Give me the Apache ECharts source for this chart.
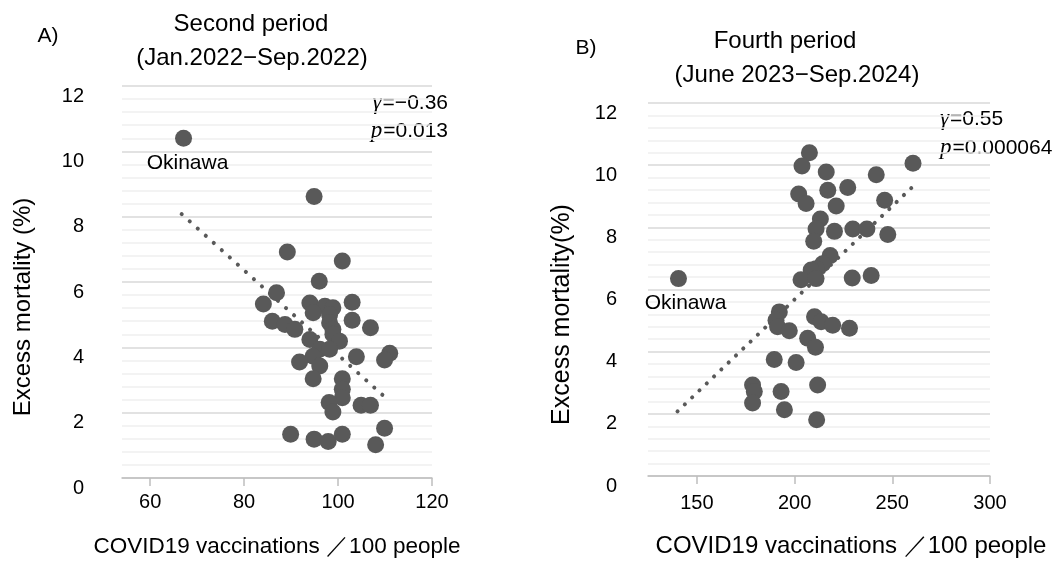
<!DOCTYPE html>
<html>
<head>
<meta charset="utf-8">
<script src="https://cdn.jsdelivr.net/npm/echarts@6/dist/echarts.min.js"></script>
<style>
html, body { margin: 0; background: #fff; }
#chart { width: 1053px; height: 563px; }
</style>
</head>
<body>
<div id="chart"></div>
<script>
// tick values
const yTicks = [0, 2, 4, 6, 8, 10, 12];
const xTicksA = [60, 80, 100, 120];
const xTicksB = [150, 200, 250, 300];

// A) second period, first point is Okinawa
const vaccA = [67.1, 94.9, 89.2, 100.9, 96.0, 86.9, 84.1, 94.0, 97.2, 98.9, 103.0, 94.7, 98.2, 86.0, 88.7,
    90.8, 98.2, 98.9, 103.0, 106.9, 94.0, 98.9, 100.3, 96.1, 94.7, 98.2, 103.9, 91.8, 96.1, 94.7,
    111.0, 109.9, 100.9, 100.9, 100.9, 98.1, 98.9, 104.9, 106.9, 109.9, 108.0, 89.9, 94.9, 97.9, 100.9];
const excessA = [10.40, 8.62, 6.92, 6.64, 6.02, 5.67, 5.33, 5.36, 5.26, 5.21, 5.38, 5.06, 5.00, 4.80, 4.70,
    4.55, 4.75, 4.55, 4.83, 4.60, 4.24, 4.40, 4.19, 3.94, 3.73, 3.94, 3.71, 3.55, 3.43, 3.04,
    3.82, 3.61, 3.04, 2.72, 2.46, 2.31, 2.02, 2.23, 2.23, 1.52, 1.02, 1.34, 1.19, 1.12, 1.34];
const trendAx = [66.7, 110.1];
const trendAy = [8.08, 2.46];

// B) fourth period, first point is Okinawa
const vaccB = [140.6, 207.6, 203.8, 216.2, 241.8, 260.6, 227.2, 217.0, 202.1, 205.9, 221.3, 246.1, 213.2, 211.0,
    220.4, 229.8, 237.0, 247.7, 209.8, 218.2, 214.4, 211.0, 208.5, 203.3, 211.0, 229.5, 239.2, 192.2,
    190.5, 210.2, 213.6, 219.5, 228.1, 191.3, 197.3, 206.7, 210.7, 189.6, 200.8, 178.5, 179.4, 178.5,
    193.1, 211.8, 194.8, 211.3];
const excessB = [6.35, 10.40, 9.97, 9.78, 9.69, 10.06, 9.28, 9.19, 9.07, 8.77, 8.69, 8.87, 8.27, 7.95,
    7.87, 7.95, 7.95, 7.77, 7.55, 7.09, 6.83, 6.67, 6.63, 6.31, 6.35, 6.37, 6.45, 5.28,
    5.01, 5.12, 4.96, 4.85, 4.75, 4.80, 4.67, 4.43, 4.14, 3.75, 3.65, 2.93, 2.72, 2.35,
    2.72, 2.93, 2.13, 1.81];
const trendBx = [140.1, 260.3];
const trendBy = [2.08, 9.3];

const FONT = '"Liberation Sans", Arial, sans-serif';
const DOT = '#595959';

const chart = echarts.init(document.getElementById('chart'));

function points(xs, ys, labelOffset) {
    return xs.map((x, i) => {
        const item = { value: [x, ys[i]] };
        if (i === 0) {
            item.label = {
                show: true,
                formatter: 'Okinawa',
                position: 'bottom',
                distance: 6,
                offset: labelOffset,
                color: '#000',
                fontFamily: FONT,
                fontSize: 21,
            };
        }
        return item;
    });
}

function yAxis(gridIndex, margin, nameGap, nameSize) {
    return {
        type: 'value',
        gridIndex,
        min: 0,
        max: 12,
        interval: 2,
        name: gridIndex === 0 ? 'Excess mortality (%)' : 'Excess mortality(%)',
        nameLocation: 'middle',
        nameGap,
        nameTextStyle: { color: '#000', fontFamily: FONT, fontSize: nameSize, padding: [0, 50, 0, 0] },
        axisLine: { show: false },
        axisTick: { show: false },
        axisLabel: {
            color: '#000', fontFamily: FONT, fontSize: 20, margin, verticalAlign: 'top',
            formatter: v => (yTicks.includes(v) ? String(v) : ''),
        },
        splitLine: { lineStyle: { color: '#d9d9d9', width: 1.5 } },
        minorTick: { show: false, splitNumber: 5 },
        minorSplitLine: { show: true, lineStyle: { color: '#efefef', width: 1.5 } },
    };
}

function xAxis(gridIndex, min, max, ticks, labelMargin, nameGap, nameSize, namePad) {
    return {
        type: 'value',
        gridIndex,
        min,
        max,
        name: 'COVID19 vaccinations ／100 people',
        nameLocation: 'middle',
        nameGap,
        nameTextStyle: { color: '#000', fontFamily: FONT, fontSize: nameSize, padding: namePad },
        axisLine: { lineStyle: { color: '#bfbfbf', width: 1.5 } },
        axisTick: { customValues: ticks, length: 8, lineStyle: { color: '#bfbfbf', width: 1.5 } },
        axisLabel: { customValues: ticks, color: '#000', fontFamily: FONT, fontSize: 20, margin: labelMargin },
        splitLine: { show: false },
    };
}

function trend(idx, xs, ys, gap) {
    return {
        type: 'line',
        xAxisIndex: idx,
        yAxisIndex: idx,
        data: xs.map((x, i) => [x, ys[i]]),
        showSymbol: false,
        silent: true,
        z: 1,
        lineStyle: { color: DOT, width: 4, type: [0.1, gap], cap: 'round' },
    };
}

function text(x, y, str, size, align, extra) {
    return {
        type: 'text',
        x,
        y,
        style: Object.assign({
            text: str,
            fill: '#000',
            font: `${size}px ${FONT}`,
            textAlign: align,
            textVerticalAlign: 'middle',
        }, extra || {}),
    };
}

const greek = {
    g: { font: 'italic 23px "Liberation Serif", "Times New Roman", serif', fill: '#000', padding: [0, 1, 0, 0] },
};

const option = {
    animation: false,
    backgroundColor: '#fff',
    grid: [
        { left: 122, top: 86, width: 310, height: 393 },
        { left: 648, top: 103, width: 342, height: 377 },
    ],
    xAxis: [
        xAxis(0, 54, 120, xTicksA, 14, 57, 22.5, [0, 0, 0, 0]),
        xAxis(1, 125, 300, xTicksB, 17, 58, 24, [0, 0, 0, 64]),
    ],
    yAxis: [
        yAxis(0, 38, 87, 24),
        yAxis(1, 31, 73, 25),
    ],
    series: [
        trend(0, trendAx, trendAy, 10.7),
        trend(1, trendBx, trendBy, 10),
        {
            type: 'scatter',
            xAxisIndex: 0,
            yAxisIndex: 0,
            symbolSize: 17,
            itemStyle: { color: DOT, opacity: 1 },
            data: points(vaccA, excessA, [4, 0]),
        },
        {
            type: 'scatter',
            xAxisIndex: 1,
            yAxisIndex: 1,
            symbolSize: 17,
            itemStyle: { color: DOT, opacity: 1 },
            data: points(vaccB, excessB, [7, 0]),
        },
    ],
    graphic: [
        text(48, 36, 'A)', 21, 'center'),
        text(251, 24, 'Second period', 24, 'center'),
        text(252, 58, '(Jan.2022−Sep.2022)', 24, 'center'),
        text(586, 48, 'B)', 21, 'center'),
        text(785, 41, 'Fourth period', 24, 'center'),
        text(797, 75, '(June 2023−Sep.2024)', 24, 'center'),
        text(448, 103, '{g|γ}=−0.36', 21, 'right', { rich: greek }),
        text(448, 131, '{g|p}=0.013', 21, 'right', { rich: greek }),
        text(940, 119, '{g|γ}=0.55', 21, 'left', { rich: greek }),
        text(940, 148, '{g|p}=0.000064', 21, 'left', { rich: greek }),
    ],
};

chart.setOption(option);
</script>
</body>
</html>
